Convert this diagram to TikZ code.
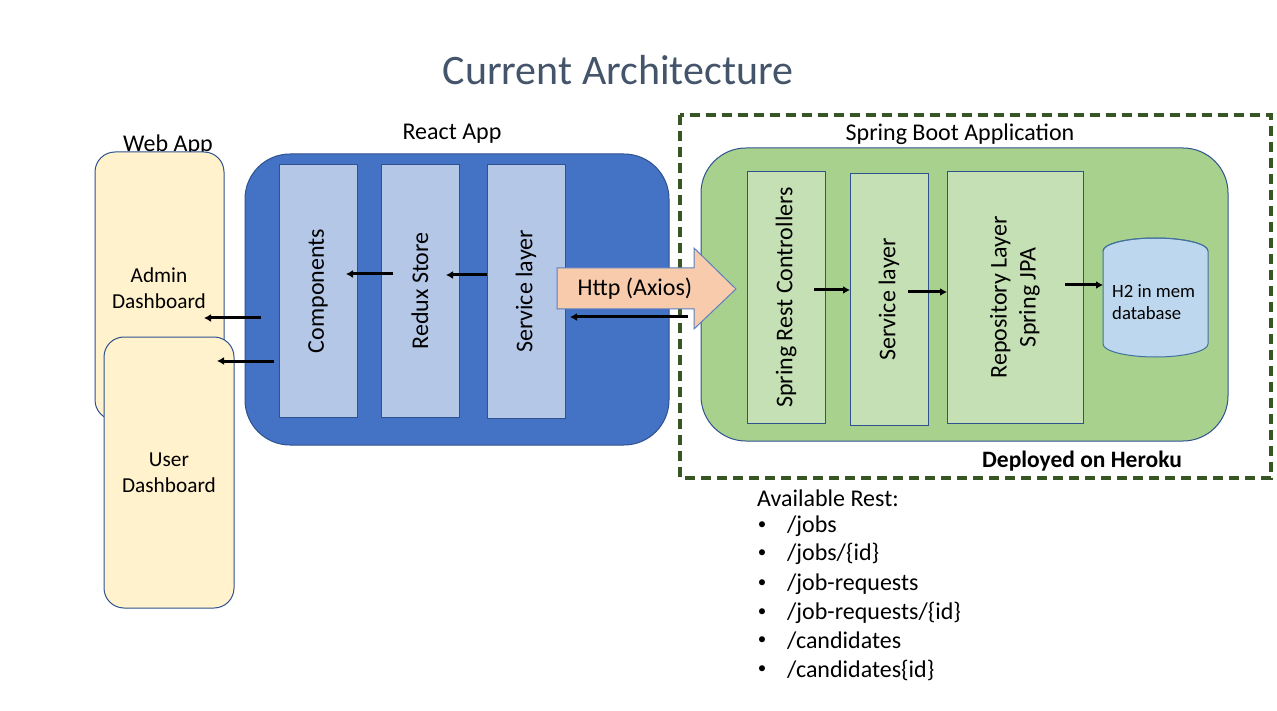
\documentclass[tikz,border=0pt]{standalone}
\usepackage{fontspec}
\setmainfont{Carlito}
\usetikzlibrary{arrows.meta}
\definecolor{titlecol}{HTML}{44546A}
\definecolor{bord}{HTML}{2F528F}
\definecolor{webfill}{HTML}{FFF2CC}
\definecolor{reactfill}{HTML}{4472C4}
\definecolor{innerblue}{HTML}{B4C7E7}
\definecolor{springfill}{HTML}{A9D18E}
\definecolor{innergreen}{HTML}{C5E0B4}
\definecolor{dashgreen}{HTML}{375623}
\definecolor{dbfill}{HTML}{BDD7EE}
\definecolor{dbbord}{HTML}{41719C}
\definecolor{httpfill}{HTML}{F8CBAD}
\definecolor{httpbord}{HTML}{5B7FBF}
\tikzset{
  x=1pt, y=-1pt,
  webbox/.style={draw=bord, line width=1pt, fill=webfill, rounded corners=20pt, inner sep=0pt, align=center, font=\fontsize{21.3}{26}\selectfont},
  bigbox/.style={draw=bord, line width=1pt, rounded corners=45pt, inner sep=0pt},
  layerbox/.style={draw=bord, line width=1pt, inner sep=0pt, minimum width=78pt, font=\fontsize{24}{29}\selectfont},
  lbl/.style={font=\fontsize{24}{29}\selectfont, inner sep=0pt},
  flow/.style={line width=3pt, -{Latex[length=7pt,width=8pt]}},
  listitem/.style={anchor=west, inner sep=0pt, font=\fontsize{24}{29}\selectfont},
  bullet/.style={inner sep=0pt, font=\fontsize{17}{20}\selectfont}
}
\begin{document}
\begin{tikzpicture}
\useasboundingbox (0,0) rectangle (1277,711);
% title
\node[inner sep=0pt, text=titlecol, font=\fontsize{42}{50}\selectfont] (title) at (618,70) {Current Architecture};

% Web App
\node[lbl] (weblbl) at (168,145) {Web App};
\node[webbox, minimum width=129pt, minimum height=268pt] (admin) at (159.5,286) {};
\node[align=center, inner sep=0pt, font=\fontsize{21.3}{26}\selectfont] (admintxt) at (159,288) {Admin\\Dashboard};
\node[webbox, minimum width=130pt, minimum height=271pt] (user) at (169,472.5) {User\\Dashboard};

% React App
\node[lbl] (reactlbl) at (452,134) {React App};
\node[bigbox, fill=reactfill, minimum width=424pt, minimum height=291pt] (react) at (457,299.5) {};
\node[layerbox, fill=innerblue, minimum height=252pt] (comp) at (318,291) {};
\node[lbl, rotate=90] at (318,291) {Components};
\node[layerbox, fill=innerblue, minimum height=252pt] (redux) at (420,291) {};
\node[lbl, rotate=90] at (420,291) {Redux Store};
\node[layerbox, fill=innerblue, minimum height=253pt] (svc) at (526,291.5) {};
\node[lbl, rotate=90] at (526,291.5) {Service layer};

% Spring Boot
\draw[dashgreen, line width=3.2pt, dash pattern=on 10pt off 6pt] (680,115) rectangle (1271,478);
\node[lbl] (springlbl) at (960,134) {Spring Boot Application};
\node[bigbox, fill=springfill, minimum width=527pt, minimum height=293pt] (spring) at (964.5,294.5) {};
\node[layerbox, fill=innergreen, minimum height=251pt] (ctrl) at (786,297.5) {};
\node[lbl, rotate=90] at (786,297.5) {Spring Rest Controllers};
\node[layerbox, fill=innergreen, minimum height=251pt] (ssvc) at (889,299.5) {};
\node[lbl, rotate=90] at (889,299.5) {Service layer};
\node[layerbox, fill=innergreen, minimum width=136pt, minimum height=251pt] (repo) at (1015,297.5) {};
\node[lbl, rotate=90, align=center] at (1015,297.5) {Repository Layer\\Spring JPA};

% database cylinder
\filldraw[fill=dbfill, draw=dbbord, line width=1pt]
  (1103,251) -- (1103,344) arc[start angle=180, end angle=360, x radius=52.5pt, y radius=13pt]
  -- (1208,251) arc[start angle=0, end angle=180, x radius=52.5pt, y radius=13pt] -- cycle;
\draw[dbbord, line width=1pt] (1103,251) arc[start angle=180, end angle=360, x radius=52.5pt, y radius=-13pt];
\node[anchor=west, align=left, inner sep=0pt, font=\fontsize{18.7}{22.5}\selectfont] (db) at (1112,302) {H2 in mem\\database};

\node[inner sep=0pt, font=\bfseries\fontsize{23.5}{28}\selectfont] (heroku) at (1082,461) {Deployed on Heroku};

% Http arrow
\filldraw[fill=httpfill, draw=httpbord, line width=1pt]
  (557,268) -- (694,268) -- (694,248) -- (736,289) -- (694,329) -- (694,309) -- (557,309) -- cycle;
\node[lbl] (http) at (635,289) {Http (Axios)};

% flow arrows
\coordinate (rc1) at (393,274); \coordinate (rc2) at (346,274);
\coordinate (sr1) at (487,275); \coordinate (sr2) at (446,275);
\coordinate (ca1) at (261,318); \coordinate (ca2) at (204,318);
\coordinate (cu1) at (274,361); \coordinate (cu2) at (217,361);
\coordinate (hb1) at (688,317); \coordinate (hb2) at (570,317);
\coordinate (cs1) at (814,290); \coordinate (cs2) at (850,290);
\coordinate (sp1) at (908,292); \coordinate (sp2) at (947,292);
\coordinate (pd1) at (1065,285); \coordinate (pd2) at (1103,285);
\draw[flow] (rc1) -- (rc2);
\draw[flow] (sr1) -- (sr2);
\draw[flow] (ca1) -- (ca2);
\draw[flow] (cu1) -- (cu2);
\draw[flow] (hb1) -- (hb2);
\draw[flow] (cs1) -- (cs2);
\draw[flow] (sp1) -- (sp2);
\draw[flow] (pd1) -- (pd2);

% Available rest list
\node[listitem] (avail) at (757,498) {Available Rest:};
\node[bullet] (b1) at (762,526) {•};
\node[listitem] (r1) at (787,526) {/jobs};
\node[bullet] (b2) at (762,554) {•};
\node[listitem] (r2) at (787,554) {/jobs/\{id\}};
\node[bullet] (b3) at (762,584) {•};
\node[listitem] (r3) at (787,584) {/job-requests};
\node[bullet] (b4) at (762,613) {•};
\node[listitem] (r4) at (787,613) {/job-requests/\{id\}};
\node[bullet] (b5) at (762,641) {•};
\node[listitem] (r5) at (787,641) {/candidates};
\node[bullet] (b6) at (762,670) {•};
\node[listitem] (r6) at (787,670) {/candidates\{id\}};
\end{tikzpicture}
\end{document}
